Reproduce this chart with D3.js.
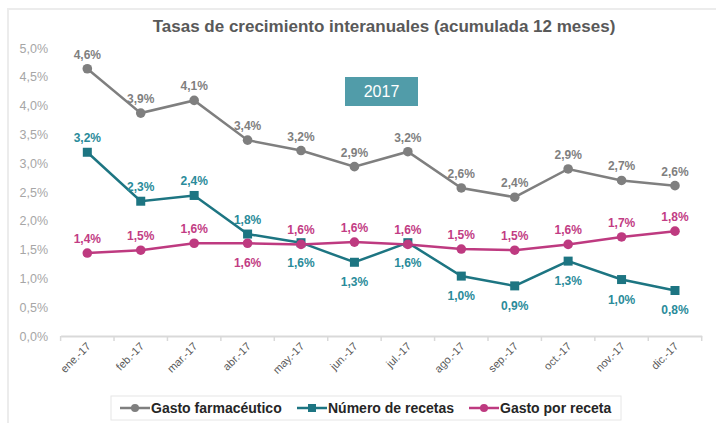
<!DOCTYPE html>
<html><head><meta charset="utf-8">
<script src="https://cdn.jsdelivr.net/npm/d3@7"></script>
<style>body{margin:0;background:#fff;}svg{display:block;font-family:"Liberation Sans",Arial,sans-serif;}</style>
</head><body><svg id="c" width="716" height="423"></svg>
<script>
const months = ["ene.-17","feb.-17","mar.-17","abr.-17","may.-17","jun.-17","jul.-17","ago.-17","sep.-17","oct.-17","nov.-17","dic.-17"];
const gastoFarma = [4.64,3.87,4.09,3.40,3.22,2.94,3.20,2.57,2.41,2.90,2.70,2.61];
const numRecetas = [3.19,2.34,2.44,1.77,1.62,1.28,1.62,1.04,0.87,1.30,0.98,0.79];
const gastoReceta = [1.44,1.49,1.61,1.61,1.59,1.63,1.59,1.51,1.49,1.59,1.72,1.82];
const numRecetasLabelPos = ["a","a","a","a","b","b","b","b","b","b","b","b"];
const gastoRecetaLabelPos = ["a","a","a","b","a","a","a","a","a","a","a","a"];
const yTicks = [0,0.5,1,1.5,2,2.5,3,3.5,4,4.5,5];
const seriesNames = ["Gasto farmacéutico","Número de recetas","Gasto por receta"];

const svg = d3.select("#c");
const fmt = v => d3.format(".1f")(v).replace(".", ",") + "%";

// outer frame
svg.append("rect").attr("x",8).attr("y",9).attr("width",720).attr("height",430)
  .attr("fill","none").attr("stroke","#ececec").attr("stroke-width",2);

const x = d3.scaleBand().domain(months).range([60.6,701.7]);
const y = d3.scaleLinear().domain([0,5]).range([336,48]);
const cx = m => x(m) + x.bandwidth()/2;

// title
svg.append("text").attr("x",384).attr("y",32).attr("text-anchor","middle")
  .attr("font-size",17).attr("font-weight","bold").attr("fill","#595959")
  .text("Tasas de crecimiento interanuales (acumulada 12 meses)");

// y axis labels
svg.append("g").selectAll("text").data(yTicks).join("text")
  .attr("x",48).attr("y",d=>y(d)+4.5).attr("text-anchor","end")
  .attr("font-size",12.5).attr("fill","#a6a6a6").text(d=>fmt(d));

// x axis
const xAxis = d3.axisBottom(x).tickSize(0).tickFormat("");
const gx = svg.append("g").attr("transform","translate(0,336)").call(xAxis);
gx.select(".domain").attr("stroke","#d9d9d9").attr("stroke-width",2);
svg.append("g").selectAll("line").data(months.concat(["__end"])).join("line")
  .attr("x1",(d,i)=>i<months.length?x(d):x(months[months.length-1])+x.bandwidth())
  .attr("x2",(d,i)=>i<months.length?x(d):x(months[months.length-1])+x.bandwidth())
  .attr("y1",336).attr("y2",341).attr("stroke","#d9d9d9").attr("stroke-width",1.5);
svg.append("g").selectAll("text").data(months).join("text")
  .attr("transform",d=>`translate(${cx(d)+4},${347}) rotate(-45)`)
  .attr("text-anchor","end").attr("font-size",11).attr("fill","#595959").text(d=>d);

// year box
svg.append("rect").attr("x",345).attr("y",77).attr("width",73).attr("height",29).attr("fill","#519ca9");
svg.append("text").attr("x",381.5).attr("y",97).attr("text-anchor","middle")
  .attr("font-size",16).attr("fill","#fff").text("2017");

const line = d3.line().x((d,i)=>cx(months[i])).y(d=>y(d));
const series = [
  {vals:gastoFarma, color:"#7f7f7f", lab:"#7f7f7f", shape:"circle", pos:months.map(()=>"a")},
  {vals:numRecetas, color:"#1d7582", lab:"#2a8b9a", shape:"square", pos:numRecetasLabelPos},
  {vals:gastoReceta, color:"#be3a80", lab:"#c23c84", shape:"circle", pos:gastoRecetaLabelPos}
];
series.forEach(s=>{
  const g = svg.append("g");
  g.append("path").datum(s.vals).attr("d",line).attr("fill","none")
    .attr("stroke",s.color).attr("stroke-width",2.5);
  if(s.shape==="circle"){
    g.selectAll("circle").data(s.vals).join("circle")
      .attr("cx",(d,i)=>cx(months[i])).attr("cy",d=>y(d)).attr("r",4.8).attr("fill",s.color);
  } else {
    g.selectAll("rect").data(s.vals).join("rect")
      .attr("x",(d,i)=>cx(months[i])-4.5).attr("y",d=>y(d)-4.5).attr("width",9).attr("height",9).attr("fill",s.color);
  }
  g.selectAll("text").data(s.vals).join("text")
    .attr("x",(d,i)=>cx(months[i])).attr("y",(d,i)=>s.pos[i]==="a"?y(d)-10:y(d)+24)
    .attr("text-anchor","middle").attr("font-size",12).attr("font-weight","bold")
    .attr("fill",s.lab).text(d=>fmt(d));
});

// legend
svg.append("rect").attr("x",111).attr("y",396).attr("width",510).attr("height",24)
  .attr("fill","#fff").attr("stroke","#e6e6e6").attr("stroke-width",1);
const legX = [120,297,469];
series.forEach((s,i)=>{
  const g = svg.append("g").attr("transform",`translate(${legX[i]},408)`);
  g.append("line").attr("x1",0).attr("x2",30).attr("stroke",s.color).attr("stroke-width",2.5);
  if(s.shape==="circle") g.append("circle").attr("cx",15).attr("r",4).attr("fill",s.color);
  else g.append("rect").attr("x",11).attr("y",-4).attr("width",8).attr("height",8).attr("fill",s.color);
  g.append("text").attr("x",31).attr("y",5).attr("font-size",14).attr("font-weight","bold")
    .attr("fill","#262626").text(seriesNames[i]);
});
</script></body></html>
